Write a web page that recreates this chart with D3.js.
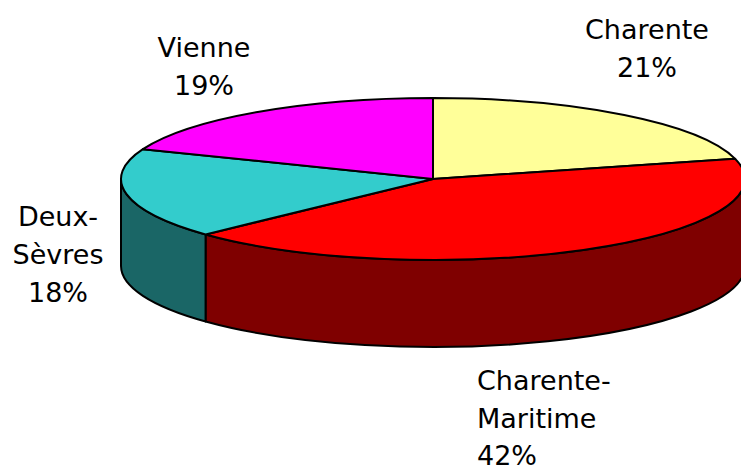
<!DOCTYPE html>
<html>
<head>
<meta charset="utf-8">
<script src="https://cdn.jsdelivr.net/npm/d3@7"></script>
<style>
  html, body { margin: 0; padding: 0; background: #fff; overflow: hidden; }
  text { font-family: "DejaVu Sans", sans-serif; font-size: 27px; fill: #000; }
</style>
</head>
<body>
<div id="chart"></div>
<script>
// values as printed on the slices, clockwise from 12 o'clock
var categories = ["Charente", "Charente-Maritime", "Deux-Sèvres", "Vienne"]
var percents = [21, 42, 18, 19]
var topColors = ["#FFFF99", "#FF0000", "#33CCCC", "#FF00FF"]
var sideColors = ["#7F7F4C", "#7F0000", "#1A6666", "#7F007F"]
var labelLines = [["Charente", "21%"], ["Charente-", "Maritime", "42%"], ["Deux-", "Sèvres", "18%"], ["Vienne", "19%"]]

var width = 741, height = 466
var cx = 433, cy = 179, rx = 312, ry = 81, depth = 87

var svg = d3.select("#chart").append("svg")
  .attr("width", width)
  .attr("height", height)
  .style("display", "block")

var pie = d3.pie().sort(null).value(function(d){ return d })
var slices = pie(percents)

// point on the tilted rim, angle measured like d3.pie
function rim(a, dy)
{
  return [cx + rx * Math.sin(a), cy - ry * Math.cos(a) + (dy || 0)]
}

// outer wall, only the front half of the disc shows
function wallPath(d)
{
  var a0 = Math.max(d.startAngle, Math.PI / 2)
  var a1 = Math.min(d.endAngle, Math.PI * 1.5)
  if(a1 <= a0) return null

  var p0 = rim(a0), p1 = rim(a1), q0 = rim(a0, depth), q1 = rim(a1, depth)
  var big = (a1 - a0) > Math.PI ? 1 : 0

  return "M" + p0 + "A" + rx + "," + ry + " 0 " + big + " 1 " + p1
    + "L" + q1 + "A" + rx + "," + ry + " 0 " + big + " 0 " + q0 + "Z"
}

svg.selectAll("path.wall")
  .data(slices.filter(function(d){ return wallPath(d) != null }))
  .enter()
  .append("path")
  .attr("class", "wall")
  .attr("d", wallPath)
  .attr("fill", function(d){ return sideColors[d.index] })
  .attr("stroke", "#000")
  .attr("stroke-width", 2)
  .attr("stroke-linejoin", "round")

// top face: plain d3 arc squashed into an ellipse
var arc = d3.arc().innerRadius(0).outerRadius(rx)

svg.append("g")
  .attr("transform", "translate(" + cx + "," + cy + ") scale(1," + (ry / rx) + ")")
  .selectAll("path")
  .data(slices)
  .enter()
  .append("path")
  .attr("d", arc)
  .attr("fill", function(d){ return topColors[d.index] })
  .attr("stroke", "#000")
  .attr("stroke-width", 2)
  .attr("stroke-linejoin", "round")
  .attr("vector-effect", "non-scaling-stroke")

// label anchors: x, first baseline, line step, text-anchor
var labelPos = [
  [647, 39, 38, "middle"],
  [477, 390, 37.5, "start"],
  [58, 226, 38, "middle"],
  [204, 57, 38, "middle"]
]

var labels = svg.selectAll("g.label")
  .data(labelLines)
  .enter()
  .append("g")
  .attr("class", "label")

labels.selectAll("text")
  .data(function(d, i){ return d.map(function(t){ return {t: t, i: i} }) })
  .enter()
  .append("text")
  .attr("x", function(d){ return labelPos[d.i][0] })
  .attr("y", function(d, j){ return labelPos[d.i][1] + j * labelPos[d.i][2] })
  .attr("text-anchor", function(d){ return labelPos[d.i][3] })
  .text(function(d){ return d.t })
</script>
</body>
</html>
